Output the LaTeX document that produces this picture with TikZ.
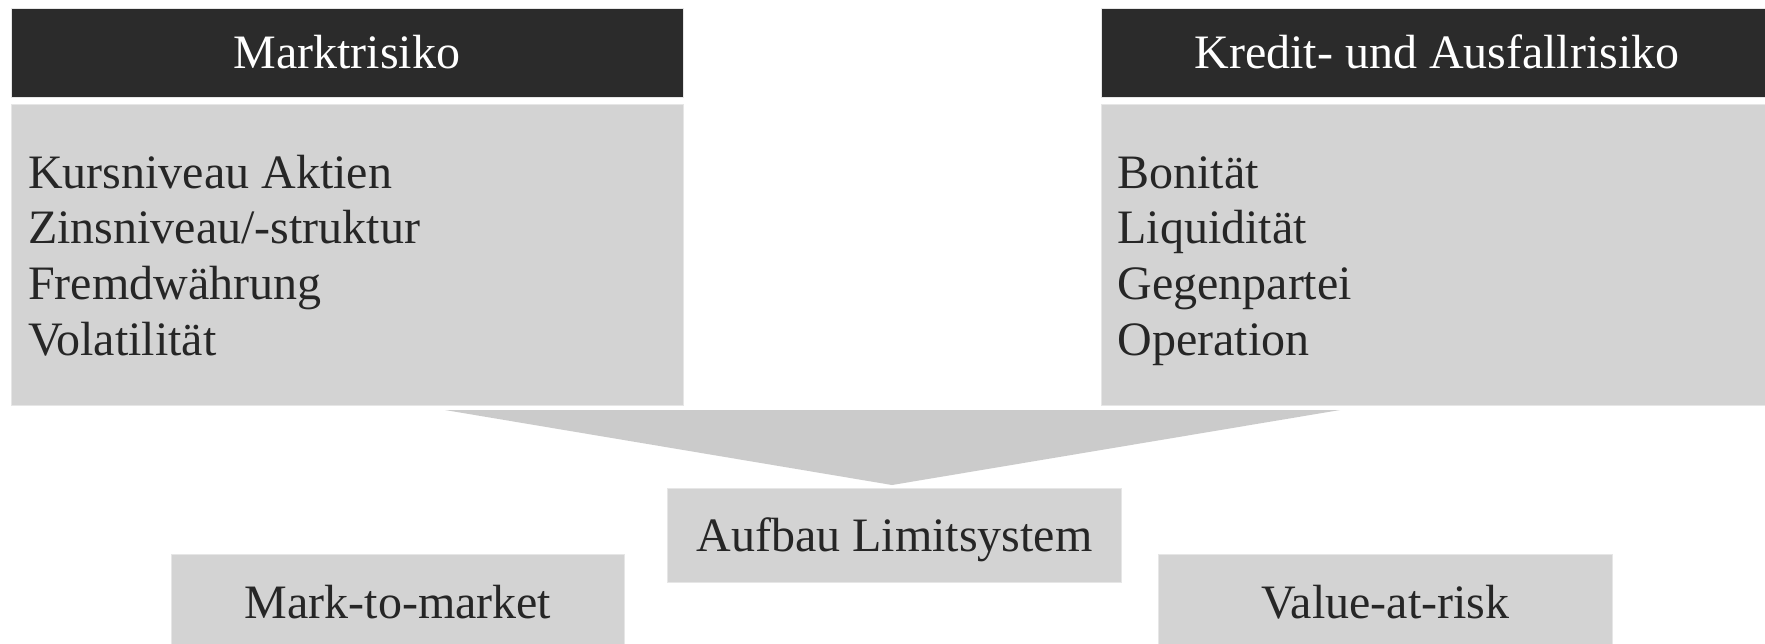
\documentclass[tikz,border=0pt]{standalone}
\usepackage{fontspec}
\setmainfont{Liberation Serif}
\definecolor{hdark}{HTML}{2B2B2B}
\definecolor{boxgray}{HTML}{D3D3D3}
\definecolor{fungray}{HTML}{CBCBCB}
\definecolor{edgegray}{HTML}{E6E6E6}
\definecolor{txt}{HTML}{262626}
\begin{document}
\begin{tikzpicture}[x=0.5pt,y=-0.5pt,
  bigfont/.style={font=\fontsize{24}{27.85}\selectfont},
  onebox/.style={rectangle,draw=edgegray,line width=0.5pt,inner sep=0pt,bigfont,
    text height=21.4pt,text depth=5.2pt},
  header/.style={onebox,fill=hdark,text=white,minimum width=336pt,minimum height=44.5pt},
  listbox/.style={rectangle,draw=edgegray,line width=0.5pt,fill=boxgray,inner sep=0pt,
    minimum width=336pt,minimum height=150.5pt},
  listtext/.style={anchor=base west,inner sep=0pt,bigfont,text=txt},
  graybox/.style={onebox,fill=boxgray,text=txt,minimum width=226.75pt},
  funnel/.style={fill=fungray,draw=none}
]
\useasboundingbox (0,0) rectangle (1765,643);
\fill[white] (0,0) rectangle (1765,643);

\node[header] (hL) at (347,52.5) {Marktrisiko};
\node[header] (hR) at (1437,52.5) {Kredit- und Ausfallrisiko};

\node[listbox] (bL) at (347,254.5) {};
\node[listbox] (bR) at (1437,254.5) {};

\node[listtext] (tL) at (27.7,188) {\begin{tabular}[t]{@{}l@{}}Kursniveau Aktien\\Zinsniveau/-struktur\\Fremdwährung\\Volatilität\end{tabular}};
\node[listtext] (tR) at (1117,188) {\begin{tabular}[t]{@{}l@{}}Bonität\\Liquidität\\Gegenpartei\\Operation\end{tabular}};

\coordinate (fl) at (445,410);
\coordinate (fr) at (1340,410);
\coordinate (fa) at (892,485);
\fill[funnel] (fl) -- (fr) -- (fa) -- cycle;

\node[graybox,minimum height=47pt] (auf) at (894.5,535) {Aufbau Limitsystem};
\node[graybox,minimum height=48pt] (mtm) at (398,602) {Mark-to-market};
\node[graybox,minimum height=48pt] (var) at (1385.5,602) {Value-at-risk};
\end{tikzpicture}
\end{document}
